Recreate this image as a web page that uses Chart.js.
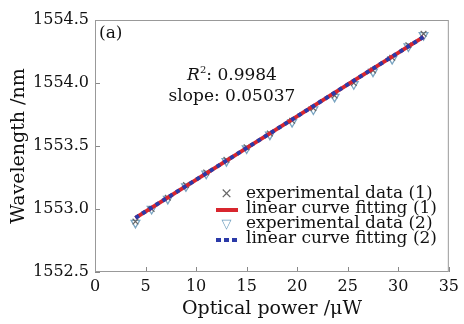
<!DOCTYPE html>
<html>
<head>
<meta charset="utf-8">
<script src="https://cdn.jsdelivr.net/npm/chart.js@4.4.1/dist/chart.umd.min.js"></script>
<style>
  html, body { margin: 0; padding: 0; background: #fff; }
  #wrap { position: relative; width: 464px; height: 324px; font-family: "DejaVu Serif", serif; color: #111; }
  #c { position: absolute; left: 0; top: 0; }
  .txt { position: absolute; white-space: nowrap; }
  .leg { position: absolute; left: 215px; top: 185px; font-size: 17px; line-height: 15px; }
  .leg div { height: 15px; white-space: nowrap; }
  .sym { display: inline-block; width: 23px; margin-right: 8px; text-align: center; vertical-align: middle; }
</style>
</head>
<body>
<div id="wrap">
  <canvas id="c" width="464" height="324"></canvas>
  <div class="txt" style="left:99px; top:22px; font-size:17px;">(a)</div>
  <div class="txt" style="left:157px; top:59px; font-size:17px; width:150px; text-align:center; line-height:21px;"><i>R</i><sup style="font-size:10px;">2</sup>: 0.9984<br>slope: 0.05037</div>
  <div class="leg">
    <div><span class="sym" style="color:#666; font-size:15px;">×</span>experimental data (1)</div>
    <div><span class="sym"><span style="display:inline-block; width:22px; height:4px; background:#d8262e; vertical-align:middle;"></span></span>linear curve fitting (1)</div>
    <div><span class="sym" style="color:#6f9fbf; font-size:13px;">▽</span>experimental data (2)</div>
    <div><span class="sym"><span style="display:inline-block; width:22px; height:4px; background:repeating-linear-gradient(90deg, #2b3aa8 0 5px, transparent 5px 8px); vertical-align:middle;"></span></span>linear curve fitting (2)</div>
  </div>
</div>
<script>
// data
const powerValues = [4.0, 5.6, 7.2, 9.0, 11.0, 13.0, 15.0, 17.3, 19.5, 21.6, 23.7, 25.6, 27.5, 29.4, 31.0, 32.5];
const wavelength1 = [1552.90, 1553.00, 1553.09, 1553.19, 1553.29, 1553.39, 1553.49, 1553.60, 1553.70, 1553.80, 1553.90, 1554.00, 1554.10, 1554.20, 1554.30, 1554.39];
const wavelength2 = [1552.89, 1553.00, 1553.08, 1553.18, 1553.28, 1553.38, 1553.48, 1553.59, 1553.69, 1553.79, 1553.89, 1553.99, 1554.09, 1554.19, 1554.29, 1554.38];
const fitX = [4.0, 32.5];
const fit1 = [1552.93, 1554.366];
const fit2 = [1552.93, 1554.366];
const xTicks = [0, 5, 10, 15, 20, 25, 30, 35];
const yTicks = [1552.5, 1553.0, 1553.5, 1554.0, 1554.5];

function pts(xs, ys) {
    return xs.map((x, i) => ({ x: x, y: ys[i] }));
}

// ticks pointing into the plot, like the original
const innerTicks = {
    id: "innerTicks",
    afterDraw(chart) {
        const ctx = chart.ctx;
        const a = chart.chartArea;
        const xs = chart.scales.x, ys = chart.scales.y;
        ctx.save();
        ctx.strokeStyle = "#888";
        ctx.lineWidth = 1;
        ctx.beginPath();
        xTicks.forEach(v => {
            const p = Math.round(xs.getPixelForValue(v)) + 0.5;
            ctx.moveTo(p, a.bottom); ctx.lineTo(p, a.bottom - 5);
        });
        yTicks.forEach(v => {
            const p = Math.round(ys.getPixelForValue(v)) + 0.5;
            ctx.moveTo(a.left, p); ctx.lineTo(a.left + 5, p);
        });
        ctx.stroke();
        ctx.strokeStyle = "#999";
        ctx.strokeRect(a.left + 0.5, a.top + 0.5, a.right - a.left - 1, a.bottom - a.top - 1);
        ctx.restore();
    }
};

const font = { family: "DejaVu Serif", size: 16 };
const titleFont = { family: "DejaVu Serif", size: 19 };

new Chart(document.getElementById("c").getContext("2d"), {
    type: "scatter",
    data: {
        datasets: [
            {
                label: "experimental data (1)",
                data: pts(powerValues, wavelength1),
                pointStyle: "crossRot",
                pointRadius: 4,
                borderColor: "#666",
                borderWidth: 1.2,
                order: 3
            },
            {
                label: "experimental data (2)",
                data: pts(powerValues, wavelength2),
                pointStyle: "triangle",
                rotation: 180,
                pointRadius: 5,
                borderColor: "#7aa5c2",
                backgroundColor: "rgba(0,0,0,0)",
                borderWidth: 1.3,
                order: 4
            },
            {
                label: "linear curve fitting (1)",
                type: "line",
                data: pts(fitX, fit1),
                borderColor: "#d8262e",
                borderWidth: 4,
                pointRadius: 0,
                order: 2
            },
            {
                label: "linear curve fitting (2)",
                type: "line",
                data: pts(fitX, fit2),
                borderColor: "#2b3aa8",
                borderWidth: 4,
                borderDash: [4, 4],
                pointRadius: 0,
                order: 1
            }
        ]
    },
    options: {
        responsive: false,
        animation: false,
        layout: { padding: { top: 20, right: 10, left: 4, bottom: 0 } },
        plugins: { legend: { display: false }, tooltip: { enabled: false } },
        scales: {
            x: {
                type: "linear",
                min: 0, max: 35,
                afterBuildTicks: s => { s.ticks = xTicks.map(v => ({ value: v })); },
                afterFit: s => { s.height = 52; },
                grid: { display: false, drawTicks: false },
                border: { display: false },
                ticks: { color: "#111", font: font, padding: 5, maxRotation: 0 },
                title: { display: true, text: "Optical power /μW", color: "#111", font: titleFont, padding: { top: 0 } }
            },
            y: {
                type: "linear",
                min: 1552.5, max: 1554.5,
                afterBuildTicks: s => { s.ticks = yTicks.map(v => ({ value: v })); },
                afterFit: s => { s.width = 91; },
                grid: { display: false, drawTicks: false },
                border: { display: false },
                ticks: { color: "#111", font: font, padding: 6, callback: v => v.toFixed(1) },
                title: { display: true, text: "Wavelength /nm", color: "#111", font: titleFont, padding: { bottom: 0 } }
            }
        }
    },
    plugins: [innerTicks]
});
</script>
</body>
</html>
